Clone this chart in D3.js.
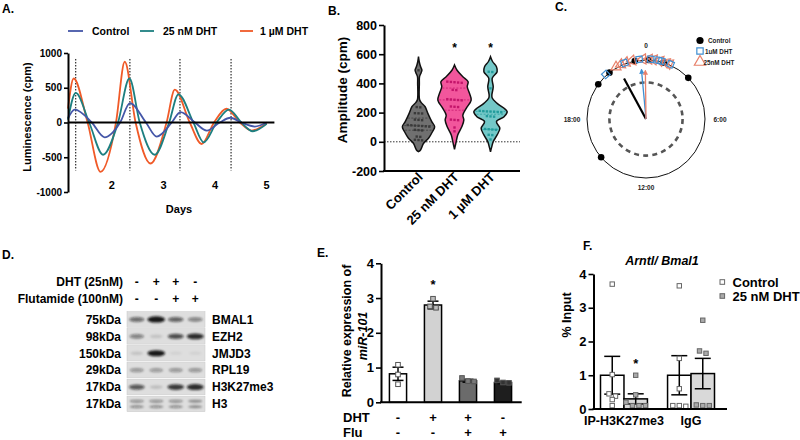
<!DOCTYPE html>
<html><head><meta charset="utf-8">
<script src="https://cdn.jsdelivr.net/npm/d3@7/dist/d3.min.js"></script>
<style>
body{margin:0;background:#fff;}
svg text{font-family:"Liberation Sans",Arial,Helvetica,sans-serif;font-weight:bold;fill:#000;}
</style></head><body>
<svg id="chart" width="800" height="440"></svg>
<script>
// ================= DATA =================
// Panel A: luminescence traces [day, cpm]
const aSeriesNames = ["Control", "25 nM DHT", "1 µM DHT"];
const aControl = [[1.15,60],[1.28,184],[1.61,0],[1.86,-213],[2.16,0],[2.35,280],[2.66,0],[2.87,-203],[3.16,0],[3.33,150],[3.61,0],[3.84,-116],[4.09,0],[4.30,68],[4.51,0],[4.77,-58],[5.0,0]];
const aDHT25 = [[1.15,40],[1.30,425],[1.56,0],[1.83,-464],[2.12,0],[2.34,633],[2.54,0],[2.83,-464],[3.11,0],[3.29,406],[3.58,0],[3.78,-285],[4.03,0],[4.27,184],[4.51,0],[4.73,-126],[5.0,-20]];
const aDHT1 = [[1.15,200],[1.26,633],[1.53,0],[1.78,-710],[2.08,0],[2.25,874],[2.46,0],[2.75,-590],[3.06,0],[3.22,474],[3.51,0],[3.74,-309],[3.98,0],[4.22,198],[4.48,0],[4.71,-116],[5.0,-10]];
const aYTicks = [-1000,-500,0,500,1000];
const aXTicks = [2,3,4,5];
const aPeakDays = [1.30, 2.35, 3.32, 4.31];

// Panel B: amplitudes (cpm)
const bCategories = ["Control","25 nM DHT","1 µM DHT"];
const bControlDots = [490,238,236,196,195,194,152,150,148,115,113,111,110,108,106,104,82,80,78,36,34,14,12,10];
const bDHT25Dots = [412,410,408,406,404,356,354,292,290,288,286,284,242,240,238,152,150,148,98,72];
const bDHT1Dots = [480,478,366,212,210,208,207,206,204,202,176,174,172,88,86,84,82,48,46,16];
// violin outlines: [value, relative density]
const bControlDensity = [[-68,0],[-56,0.12],[-10,0.3],[24,0.59],[69,0.82],[103,0.95],[138,0.78],[195,0.55],[240,0.39],[270,0.15],[290,0.06],[400,0.05],[446,0.06],[472,0.15],[492,0.2],[515,0.12],[550,0.04],[583,0]];
const bDHT25Density = [[-51,0],[-20,0.06],[1,0.1],[47,0.19],[103,0.43],[149,0.55],[183,0.49],[229,0.69],[286,0.98],[332,0.88],[377,0.75],[412,0.8],[446,0.49],[490,0.15],[526,0]];
const bDHT1Density = [[-68,0],[-40,0.06],[1,0.16],[47,0.39],[92,0.55],[138,0.35],[172,0.8],[206,0.98],[263,0.39],[300,0.1],[320,0.08],[377,0.16],[435,0.1],[480,0.39],[514,0.35],[550,0.12],[583,0]];
const bYTicks = [-200,0,200,400,600,800];
const bStars = ["","*","*"];

// Panel C: phase (hours, 0-24) and mean vectors
const cGroups = ["Control","1uM DHT","25nM DHT"];
const cControlHours = [15.3,20.4,21.45,23.27,0.15,1.17,3.05];
const cDHT1Hours = [21.2,22.6,23.57,0.3,0.8,1.0,1.6];
const cDHT25Hours = [22.0,22.35,22.7,23.1,23.8,0.2,0.5,0.9,1.3,1.5];
const cMeanHours = [22.1,23.65,23.95];
const cMeanLength = [0.78,0.84,0.82];
const cThreshold = 0.62;
const cHourLabels = [[0,"0"],[6,"6:00"],[12,"12:00"],[18,"18:00"]];

// Panel D: western blot
const dDHT = ["-","+","+","-"];
const dFlu = ["-","-","+","+"];
const dProteins = ["BMAL1","EZH2","JMJD3","RPL19","H3K27me3","H3"];
const dWeights = ["75kDa","98kDa","150kDa","29kDa","17kDa","17kDa"];
const dIntensity = [[0.55,0.95,0.6,0.45],[0.45,0.12,0.7,0.85],[0.12,0.95,0.06,0.06],[0.35,0.33,0.35,0.35],[0.65,0.15,0.8,0.85],[0.4,0.4,0.4,0.38]];
const dBandCount = [1,1,1,1,1,2];

// Panel E: miR-101
const eMeans = [0.82,2.8,0.62,0.57];
const eSEM = [0.19,0.11,0.04,0.03];
const ePoints = [[1.08,0.8,0.52],[2.98,2.76,2.72],[0.7,0.6,0.61],[0.63,0.57,0.56]];
const eDHT = ["-","+","+","-"];
const eFlu = ["-","-","+","+"];
const eYTicks = [0,1,2,3,4];
const eStars = ["","*","",""];

// Panel F: ChIP
const fGroups = ["IP-H3K27me3","IgG"];
const fSeries = ["Control","25 nM DHT"];
const fMeans = [[1.0,0.3],[1.0,1.05]];
const fSEM = [[0.56,0.15],[0.58,0.45]];
const fPoints = [[[3.7,1.02,0.45,0.38,0.28,0.1],[1.0,0.42,0.2,0.1,0.1,0.1]],[[3.65,1.5,0.6,0.1,0.1,0.08],[2.63,1.72,1.65,0.12,0.1,0.1]]];
const fYTicks = [0,1,2,3,4];
const fStars = [["","*"],["",""]];

// ================= DRAW =================
const svg = d3.select("#chart");
svg.append("rect").attr("width",800).attr("height",440).attr("fill","#fff");
const defs = svg.append("defs");
defs.append("filter").attr("id","blur").attr("x","-50%").attr("y","-100%").attr("width","200%").attr("height","300%")
  .append("feGaussianBlur").attr("stdDeviation",1.1);
const cBlue = "#3f8fd2", cOrange = "#e8806a";
defs.append("marker").attr("id","arrB").attr("viewBox","0 0 10 10").attr("refX",8).attr("refY",5)
  .attr("markerWidth",4).attr("markerHeight",4).attr("orient","auto")
  .append("path").attr("d","M0,0L10,5L0,10z").attr("fill",cBlue);
defs.append("marker").attr("id","arrO").attr("viewBox","0 0 10 10").attr("refX",8).attr("refY",5)
  .attr("markerWidth",4).attr("markerHeight",4).attr("orient","auto")
  .append("path").attr("d","M0,0L10,5L0,10z").attr("fill",cOrange);

const fmt = d => String(d);
function txt(g,x,y,s,size,anchor){
  return g.append("text").attr("x",x).attr("y",y).attr("font-size",size).attr("text-anchor",anchor||"start").text(s);
}
function styleAxis(g,fs){
  g.select(".domain").attr("stroke","#000").attr("stroke-width",2);
  g.selectAll(".tick line").attr("stroke","#000").attr("stroke-width",1.6);
  g.selectAll(".tick text").attr("font-size",fs).attr("fill","#000");
}
function swarm(vals,yScale,thresh,spacing){
  const pts = vals.map(v=>({v,y:yScale(v)})).sort((a,b)=>a.y-b.y);
  const rows=[];
  pts.forEach(p=>{const last=rows[rows.length-1]; if(last && Math.abs(p.y-last[0].y)<thresh) last.push(p); else rows.push([p]);});
  rows.forEach(r=>r.forEach((p,i)=>p.dx=(i-(r.length-1)/2)*spacing));
  return pts;
}

// panel letters
[["A.",2,13],["B.",328,15],["C.",555,11],["D.",2,259],["E.",317,257],["F.",583,250]].forEach(d=>txt(svg,d[1],d[2],d[0],12));

// ---------- Panel A ----------
(function(){
  const g = svg.append("g");
  const x = d3.scaleLinear().domain([1.15,5.15]).range([68,274.4]);
  const y = d3.scaleLinear().domain([-1000,1000]).range([192,53]);
  aPeakDays.forEach(d=>g.append("line").attr("x1",x(d)).attr("x2",x(d)).attr("y1",y(914)).attr("y2",y(-690))
    .attr("stroke","#000").attr("stroke-width",1).attr("stroke-dasharray","1.5,1.5"));
  const line = d3.line().x(d=>x(d[0])).y(d=>y(d[1])).curve(d3.curveMonotoneX);
  const cols = {"Control":"#4456a8","25 nM DHT":"#1d7f80","1 µM DHT":"#f05a28"};
  const series = {"Control":aControl,"25 nM DHT":aDHT25,"1 µM DHT":aDHT1};
  ["1 µM DHT","25 nM DHT","Control"].forEach(k=>g.append("path").attr("d",line(series[k])).attr("fill","none")
    .attr("stroke",cols[k]).attr("stroke-width",1.8));
  g.append("line").attr("x1",x.range()[0]).attr("x2",x.range()[1]).attr("y1",y(0)).attr("y2",y(0)).attr("stroke","#000").attr("stroke-width",2);
  const ax = g.append("g").attr("transform","translate(68,0)").call(d3.axisLeft(y).tickValues(aYTicks).tickFormat(fmt).tickSize(4).tickPadding(2).tickSizeOuter(0));
  styleAxis(ax,10);
  aXTicks.forEach(d=>txt(g,x(d),189,d,11,"middle"));
  txt(g,179,213,"Days",11,"middle");
  g.append("text").attr("transform","translate(31,117) rotate(-90)").attr("text-anchor","middle").attr("font-size",11).text("Luminescence (cpm)");
  // legend
  const legX = [[68,83,92],[140,154,163],[240,253,260]];
  aSeriesNames.forEach((k,i)=>{
    g.append("line").attr("x1",legX[i][0]).attr("x2",legX[i][1]).attr("y1",31).attr("y2",31).attr("stroke",cols[k]).attr("stroke-width",1.8);
    txt(g,legX[i][2],35,k,10.5);
  });
})();

// ---------- Panel B ----------
(function(){
  const g = svg.append("g");
  const y = d3.scaleLinear().domain([-200,800]).range([171,25]);
  const x = d3.scalePoint().domain(bCategories).range([418.5,490.5]);
  const w = d3.scaleLinear().domain([0,1]).range([0,17]);
  g.append("line").attr("x1",384).attr("x2",520).attr("y1",y(0)).attr("y2",y(0)).attr("stroke","#333").attr("stroke-width",1).attr("stroke-dasharray","1.5,1.5");
  const fills = ["#707070","#f2569c","#74c8c8"];
  const dotc = ["#3a3a3a","#c4156b","#239c9c"];
  const dens = [bControlDensity,bDHT25Density,bDHT1Density];
  const dots = [bControlDots,bDHT25Dots,bDHT1Dots];
  function hwAt(profile,v){
    for(let i=1;i<profile.length;i++){ if(v<=profile[i][0]){ const a=profile[i-1],b=profile[i]; const t=(v-a[0])/(b[0]-a[0]); return w(a[1]+t*(b[1]-a[1])); } }
    return 0;
  }
  bCategories.forEach((c,i)=>{
    const cx = x(c);
    const area = d3.area().y(d=>y(d[0])).x0(d=>cx-w(d[1])).x1(d=>cx+w(d[1])).curve(d3.curveCatmullRom.alpha(0.5));
    g.append("path").attr("d",area(dens[i])).attr("fill",fills[i]).attr("stroke","#111").attr("stroke-width",1.5);
    const sorted = dots[i].slice().sort(d3.ascending);
    [0.25,0.5,0.75].forEach(q=>{
      const v = d3.quantile(sorted,q); const hw = hwAt(dens[i],v)*0.92;
      g.append("line").attr("x1",cx-hw).attr("x2",cx+hw).attr("y1",y(v)).attr("y2",y(v)).attr("stroke",dotc[i]).attr("stroke-width",0.9).attr("stroke-dasharray","2,1.5").attr("opacity",0.8);
    });
    swarm(dots[i],y,2.6,3.6).forEach(p=>g.append("rect").attr("x",cx+p.dx-1.2).attr("y",p.y-1.2).attr("width",2.4).attr("height",2.4).attr("fill",dotc[i]));
    if(bStars[i]) txt(g,cx,52,bStars[i],12,"middle");
    g.append("text").attr("transform",`translate(${cx+5},178) rotate(-45)`).attr("text-anchor","end").attr("font-size",13).text(c);
  });
  const ay = g.append("g").attr("transform","translate(384,0)").call(d3.axisLeft(y).tickValues(bYTicks).tickFormat(fmt).tickSize(5).tickPadding(2).tickSizeOuter(0));
  styleAxis(ay,12.5);
  g.append("line").attr("x1",383).attr("x2",520).attr("y1",y(-200)).attr("y2",y(-200)).attr("stroke","#000").attr("stroke-width",2);
  g.append("text").attr("transform","translate(346.5,90) rotate(-90)").attr("text-anchor","middle").attr("font-size",13.5).text("Amplitude (cpm)");
})();

// ---------- Panel C ----------
(function(){
  const g = svg.append("g");
  const cx=646, cy=119, R=59;
  const ang = d3.scaleLinear().domain([0,24]).range([0,360]);
  const rad = d3.scaleLinear().domain([0,1]).range([0,R]);
  const pos = (h,r)=>{const a=ang(h)*Math.PI/180; return [cx+r*Math.sin(a), cy-r*Math.cos(a)];};
  g.append("circle").attr("cx",cx).attr("cy",cy).attr("r",R).attr("fill","none").attr("stroke","#111").attr("stroke-width",1);
  g.append("circle").attr("cx",cx).attr("cy",cy).attr("r",rad(cThreshold)).attr("fill","none").attr("stroke","#555").attr("stroke-width",2.6).attr("stroke-dasharray","5,4.2");
  cHourLabels.forEach(([h,s])=>{
    const p = pos(h,R);
    const off = {0:[0,-12],6:[15,3],12:[0,12],18:[-15,3]}[h];
    g.append("text").attr("x",p[0]+off[0]).attr("y",p[1]+off[1]).attr("text-anchor","middle").attr("font-size",6.5).style("fill","#222").text(s);
  });
  cControlHours.forEach(h=>{const p=pos(h,R); g.append("circle").attr("cx",p[0]).attr("cy",p[1]).attr("r",3.3).attr("fill","#000");});
  const tri = d3.symbol().type(d3.symbolTriangle).size(44)();
  const sq = d3.symbol().type(d3.symbolSquare).size(38)();
  cDHT25Hours.forEach(h=>{const p=pos(h,R+1); g.append("path").attr("d",tri).attr("transform",`translate(${p[0]},${p[1]}) rotate(${ang(h)-90})`).attr("fill","none").attr("stroke",cOrange).attr("stroke-width",1.2);});
  cDHT1Hours.forEach(h=>{const p=pos(h,R+1); g.append("path").attr("d",sq).attr("transform",`translate(${p[0]},${p[1]}) rotate(${ang(h)})`).attr("fill","none").attr("stroke",cBlue).attr("stroke-width",1.2);});
  const vcol = ["#000",cBlue,cOrange];
  cMeanHours.forEach((h,i)=>{
    const p = pos(h,rad(cMeanLength[i]));
    const l = g.append("line").attr("x1",cx).attr("y1",cy).attr("x2",p[0]).attr("y2",p[1]).attr("stroke",vcol[i]).attr("stroke-width",i===0?2.2:1.3);
    if(i===1) l.attr("marker-end","url(#arrB)");
    if(i===2) l.attr("marker-end","url(#arrO)");
  });
  // legend
  g.append("circle").attr("cx",700).attr("cy",40.5).attr("r",3.6).attr("fill","#000");
  g.append("path").attr("d",d3.symbol().type(d3.symbolSquare).size(40)()).attr("transform","translate(700,51)").attr("fill","none").attr("stroke",cBlue).attr("stroke-width",1.2);
  g.append("path").attr("d",d3.symbol().type(d3.symbolTriangle).size(55)()).attr("transform","translate(700,62)").attr("fill","none").attr("stroke",cOrange).attr("stroke-width",1.2);
  txt(g,708,43,cGroups[0],6.3).style("fill","#222");
  txt(g,705,54,cGroups[1],6.3).style("fill","#222");
  txt(g,703.5,65,cGroups[2],6.3).style("fill","#222");
})();

// ---------- Panel D ----------
(function(){
  const g = svg.append("g");
  const lane = d3.scaleBand().domain(d3.range(4)).range([127,205]);
  const row = d3.scaleBand().domain(dProteins).range([311.7,411.7]).paddingInner(0.08);
  txt(g,123,286,"DHT (25nM)",12,"end");
  txt(g,123,303,"Flutamide (100nM)",12,"end");
  dDHT.forEach((s,i)=>txt(g,lane(i)+lane.bandwidth()/2,286,s,12,"middle"));
  dFlu.forEach((s,i)=>txt(g,lane(i)+lane.bandwidth()/2,303,s,12,"middle"));
  dProteins.forEach((p,r)=>{
    const y0=row(p), h=row.bandwidth(), yc=y0+h/2;
    g.append("rect").attr("x",127).attr("y",y0).attr("width",78).attr("height",h).attr("fill","#dedede").attr("stroke","#c8c8c8").attr("stroke-width",0.5);
    const bg = g.append("g").attr("filter","url(#blur)");
    dIntensity[r].forEach((v,i)=>{
      const lx = lane(i)+lane.bandwidth()/2;
      const n = dBandCount[r];
      for(let k=0;k<n;k++){
        const off = n===1?0:(k===0?-2.8:2.8);
        bg.append("ellipse").attr("cx",lx).attr("cy",yc+off).attr("rx",6+3*v).attr("ry",n===1?1.6+1.6*v:1.5)
          .attr("fill","#111").attr("opacity",v);
      }
    });
    txt(g,121,yc+4.3,dWeights[r],12,"end");
    txt(g,212,yc+4.3,p,12,"start");
  });
})();

// ---------- Panel E ----------
(function(){
  const g = svg.append("g");
  const y = d3.scaleLinear().domain([0,4]).range([402.3,263.3]);
  const x = d3.scaleBand().domain(d3.range(4)).range([380.5,520.5]).paddingInner(0.51).paddingOuter(0.255);
  const fills = ["#ffffff","#d2d2d2","#6b6b6b","#1e1e1e"];
  const pf = ["#ffffff","#bdbdbd","#7a7a7a","#333"];
  eMeans.forEach((m,i)=>{
    const bx = x(i), bw = x.bandwidth(), cxp = bx+bw/2;
    g.append("rect").attr("x",bx).attr("y",y(m)).attr("width",bw).attr("height",y(0)-y(m)).attr("fill",fills[i]).attr("stroke","#000").attr("stroke-width",1.5);
    const top=y(m+eSEM[i]), bot=y(m-eSEM[i]);
    g.append("line").attr("x1",cxp).attr("x2",cxp).attr("y1",top).attr("y2",bot).attr("stroke","#000").attr("stroke-width",1.5);
    [top,bot].forEach(yy=>g.append("line").attr("x1",cxp-5.5).attr("x2",cxp+5.5).attr("y1",yy).attr("y2",yy).attr("stroke","#000").attr("stroke-width",1.5));
    swarm(ePoints[i],y,4.5,6).forEach(p=>g.append("rect").attr("x",cxp+p.dx-2.3).attr("y",p.y-2.3).attr("width",4.6).attr("height",4.6).attr("fill",pf[i]).attr("stroke","#555").attr("stroke-width",1));
    if(eStars[i]) txt(g,cxp,289,eStars[i],13,"middle");
    txt(g,cxp,421.5,eDHT[i],13,"middle");
    txt(g,cxp,436.5,eFlu[i],13,"middle");
  });
  const ay = g.append("g").attr("transform","translate(381,0)").call(d3.axisLeft(y).tickValues(eYTicks).tickFormat(fmt).tickSize(5).tickPadding(2).tickSizeOuter(0));
  styleAxis(ay,13);
  g.append("line").attr("x1",380).attr("x2",521.7).attr("y1",y(0)).attr("y2",y(0)).attr("stroke","#000").attr("stroke-width",2);
  txt(g,343,421.5,"DHT",13);
  txt(g,343,436.5,"Flu",13);
  g.append("text").attr("transform","translate(351,331) rotate(-90)").attr("text-anchor","middle").attr("font-size",12.5).text("Relative expression of");
  g.append("text").attr("transform","translate(367,336) rotate(-90)").attr("text-anchor","middle").attr("font-size",12.5).attr("font-style","italic").text("miR-101");
})();

// ---------- Panel F ----------
(function(){
  const g = svg.append("g");
  const y = d3.scaleLinear().domain([0,4]).range([409,274]);
  const x0 = d3.scaleBand().domain(fGroups).range([600.5,714.5]).paddingInner(0.3);
  const x1 = d3.scaleBand().domain(fSeries).range([0,x0.bandwidth()]);
  const fills = ["#ffffff","#d9d9d9"];
  const pf = ["#ffffff","#aaaaaa"];
  fGroups.forEach((gr,gi)=>{
    fSeries.forEach((s,si)=>{
      const bx = x0(gr)+x1(s), bw = x1.bandwidth(), cxp=bx+bw/2, m=fMeans[gi][si];
      g.append("rect").attr("x",bx).attr("y",y(m)).attr("width",bw).attr("height",y(0)-y(m)).attr("fill",fills[si]).attr("stroke","#000").attr("stroke-width",1.5);
      const top=y(m+fSEM[gi][si]), bot=y(Math.max(0,m-fSEM[gi][si]));
      g.append("line").attr("x1",cxp).attr("x2",cxp).attr("y1",top).attr("y2",bot).attr("stroke","#000").attr("stroke-width",1.5);
      [top,bot].forEach(yy=>g.append("line").attr("x1",cxp-8).attr("x2",cxp+8).attr("y1",yy).attr("y2",yy).attr("stroke","#000").attr("stroke-width",1.5));
      swarm(fPoints[gi][si],y,4,6.5).forEach(p=>g.append("rect").attr("x",cxp+p.dx-2.2).attr("y",p.y-2.2).attr("width",4.4).attr("height",4.4).attr("fill",pf[si]).attr("stroke","#666").attr("stroke-width",1));
      if(fStars[gi][si]) txt(g,cxp,368,fStars[gi][si],13,"middle");
    });
    txt(g,x0(gr)+x0.bandwidth()/2,424.5,gr,12.5,"middle");
  });
  const ay = g.append("g").attr("transform","translate(593.5,0)").call(d3.axisLeft(y).tickValues(fYTicks).tickFormat(fmt).tickSize(5).tickPadding(2).tickSizeOuter(0));
  styleAxis(ay,13);
  g.append("line").attr("x1",592.5).attr("x2",727).attr("y1",y(0)).attr("y2",y(0)).attr("stroke","#000").attr("stroke-width",2);
  g.append("text").attr("transform","translate(571,315) rotate(-90)").attr("text-anchor","middle").attr("font-size",12.5).text("% Input");
  txt(g,662,264.5,"Arntl/ Bmal1",12.5,"middle").attr("font-style","italic");
  fSeries.forEach((s,i)=>{
    g.append("rect").attr("x",720).attr("y",282+i*14-2.3).attr("width",4.6).attr("height",4.6).attr("fill",pf[i]).attr("stroke","#666").attr("stroke-width",1);
    txt(g,732.5,286.5+i*14,s,13);
  });
})();
</script>
</body></html>
